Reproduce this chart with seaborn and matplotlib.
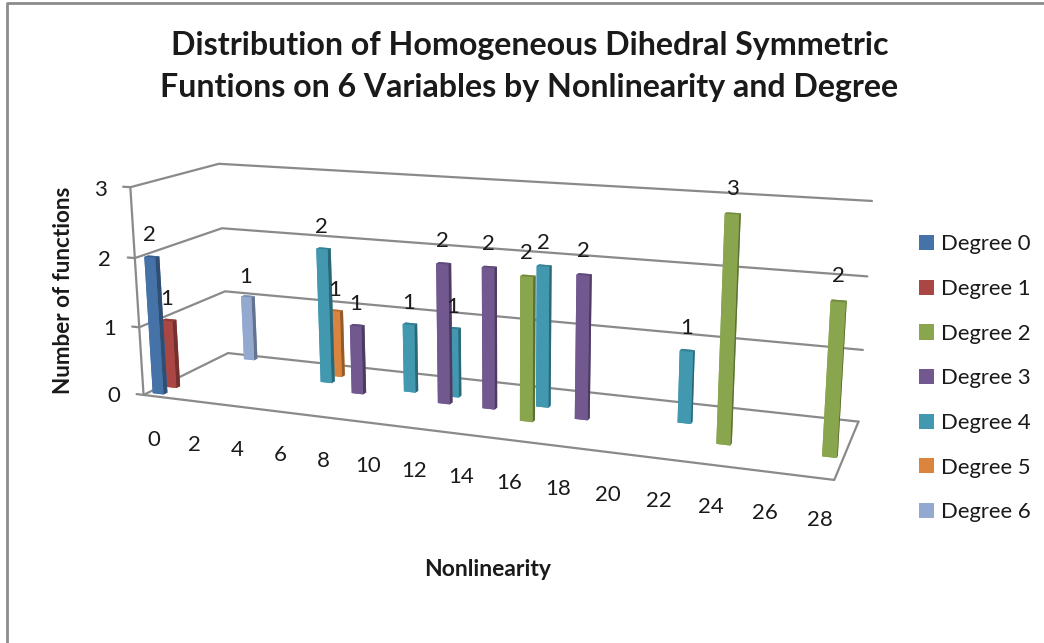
import matplotlib
matplotlib.use('Agg')
import matplotlib.pyplot as plt
from matplotlib.lines import Line2D
from matplotlib.patches import Patch
from mpl_toolkits.mplot3d import proj3d
import seaborn as sns

# the axis has one slot per integer, only the even ones get a label
nonlinearity = [0, 2, 4, 6, 8, 10, 12, 14, 16, 18, 20, 22, 24, 26, 28]
y_ticks = [0, 1, 2, 3]
degrees = ['Degree 0', 'Degree 1', 'Degree 2', 'Degree 3', 'Degree 4', 'Degree 5', 'Degree 6']
colors = ['#4572A7', '#AA4643', '#89A54E', '#71588F', '#4198AF', '#DB843D', '#93A9CF']

# for each degree: the nonlinearity values present, and how many functions
deg0_x, deg0_n = [0], [2]
deg1_x, deg1_n = [0], [1]
deg2_x, deg2_n = [16, 24, 28], [2, 3, 2]
deg3_x, deg3_n = [8, 12, 14, 18], [1, 2, 2, 2]
deg4_x, deg4_n = [6, 10, 12, 16, 22], [2, 1, 1, 2, 1]
deg5_x, deg5_n = [6], [1]
deg6_x, deg6_n = [1], [1]

series_x = [deg0_x, deg1_x, deg2_x, deg3_x, deg4_x, deg5_x, deg6_x]
series_n = [deg0_n, deg1_n, deg2_n, deg3_n, deg4_n, deg5_n, deg6_n]

W, H = 1044, 643
sns.set_theme(style='white')
plt.rcParams['font.family'] = ['Lato', 'DejaVu Sans']
text_col = '#1a1a1a'
grid_col = '#8a8a8a'

fig = plt.figure(figsize=(W / 100, H / 100), dpi=100)
ax = fig.add_subplot(projection='3d', computed_zorder=False)
ax.set_position([107.69 / W, (H - 684.59) / H, 743.46 / W, 743.46 / H])
x0, x1 = -0.5, 28.5
ny = len(degrees)
ax.set_xlim(x0, x1, view_margin=0)
ax.set_ylim(0, ny, view_margin=0)
ax.set_zlim(0, 3, view_margin=0)
ax.view_init(elev=13.926, azim=-69.089, roll=0.193)
ax.set_proj_type('persp', focal_length=0.3601)
ax.set_box_aspect((1, 0.2393, 0.3090))
ax.set_axis_off()


def label3d(x, y, z, s, size=16):
    # go through the 3d projection, then place as plain text on the axes
    px, py, _ = proj3d.proj_transform(x, y, z, ax.get_proj())
    ax.text2D(px, py, s, transform=ax.transData, fontsize=size, color=text_col,
              ha='center', va='center', zorder=40)


# walls and floor
for v in y_ticks:
    ax.plot([x0 - 0.35, x0, x0, x1], [0, 0, ny, ny], [v, v, v, v], color=grid_col, lw=1.6, zorder=1, clip_on=False)
ax.plot([x0, x0], [0, 0], [0, 3], color=grid_col, lw=1.6, zorder=1, clip_on=False)
ax.plot([x0, x1, x1], [0, 0, ny], [0, 0, 0], color=grid_col, lw=1.6, zorder=1, clip_on=False)

# bars, back row first so the front rows sit on top
bar_w, bar_d = 0.54, 0.3
for i in reversed(range(ny)):
    rgb = matplotlib.colors.to_rgb(colors[i])
    dark = tuple(c * 0.68 for c in rgb)
    top = tuple(c * 0.85 for c in rgb)
    faces = [rgb, top, rgb, rgb, rgb, dark]
    xs = [v - bar_w / 2 for v in series_x[i]]
    ys = [i + 0.5 - bar_d / 2] * len(xs)
    ax.bar3d(xs, ys, [0] * len(xs), bar_w, bar_d, series_n[i],
             color=faces * len(xs), shade=False, edgecolor='none', zorder=10 + ny - i)

# value labels
for i in range(ny):
    for v, n in zip(series_x[i], series_n[i]):
        label3d(v - 0.05, i + 0.5, n + 0.31, str(n))

# tick labels, the row of them runs a little flatter than the floor edge
for v in nonlinearity:
    label3d(v + 0.2 * (1 - v / 28), -0.5 + v / 28, -0.6, str(v))
for v in y_ticks:
    label3d(x0 - 1.5, 0, v - 0.07, str(v))

fig.text(530 / W, 1 - 45 / H, 'Distribution of Homogeneous Dihedral Symmetric', fontsize=23.1,
         fontweight='bold', color=text_col, ha='center', va='center')
fig.text(529 / W, 1 - 87 / H, 'Funtions on 6 Variables by Nonlinearity and Degree', fontsize=23.1,
         fontweight='bold', color=text_col, ha='center', va='center')
fig.text(488 / W, 1 - 570 / H, 'Nonlinearity', fontsize=16.5, fontweight='bold',
         color=text_col, ha='center', va='center')
fig.text(63 / W, 1 - 290 / H, 'Number of functions', fontsize=16.2, fontweight='bold',
         color=text_col, ha='center', va='center', rotation=90)

handles = [Patch(facecolor=c, edgecolor='none', label=d) for c, d in zip(colors, degrees)]
fig.legend(handles=handles, loc='upper left', bbox_to_anchor=(919 / W, 1 - 234.5 / H), frameon=False,
           fontsize=15.9, labelcolor=text_col, handlelength=0.68, handleheight=0.68, handletextpad=0.32,
           labelspacing=1.115, borderpad=0, borderaxespad=0)

# chart frame, only the left and top edges show in the crop
fig.add_artist(Line2D([7 / W, 7 / W, 1], [0, 1 - 2.5 / H, 1 - 2.5 / H], color='#8c8c8c', lw=2))

fig.savefig('out.png', dpi=100)
